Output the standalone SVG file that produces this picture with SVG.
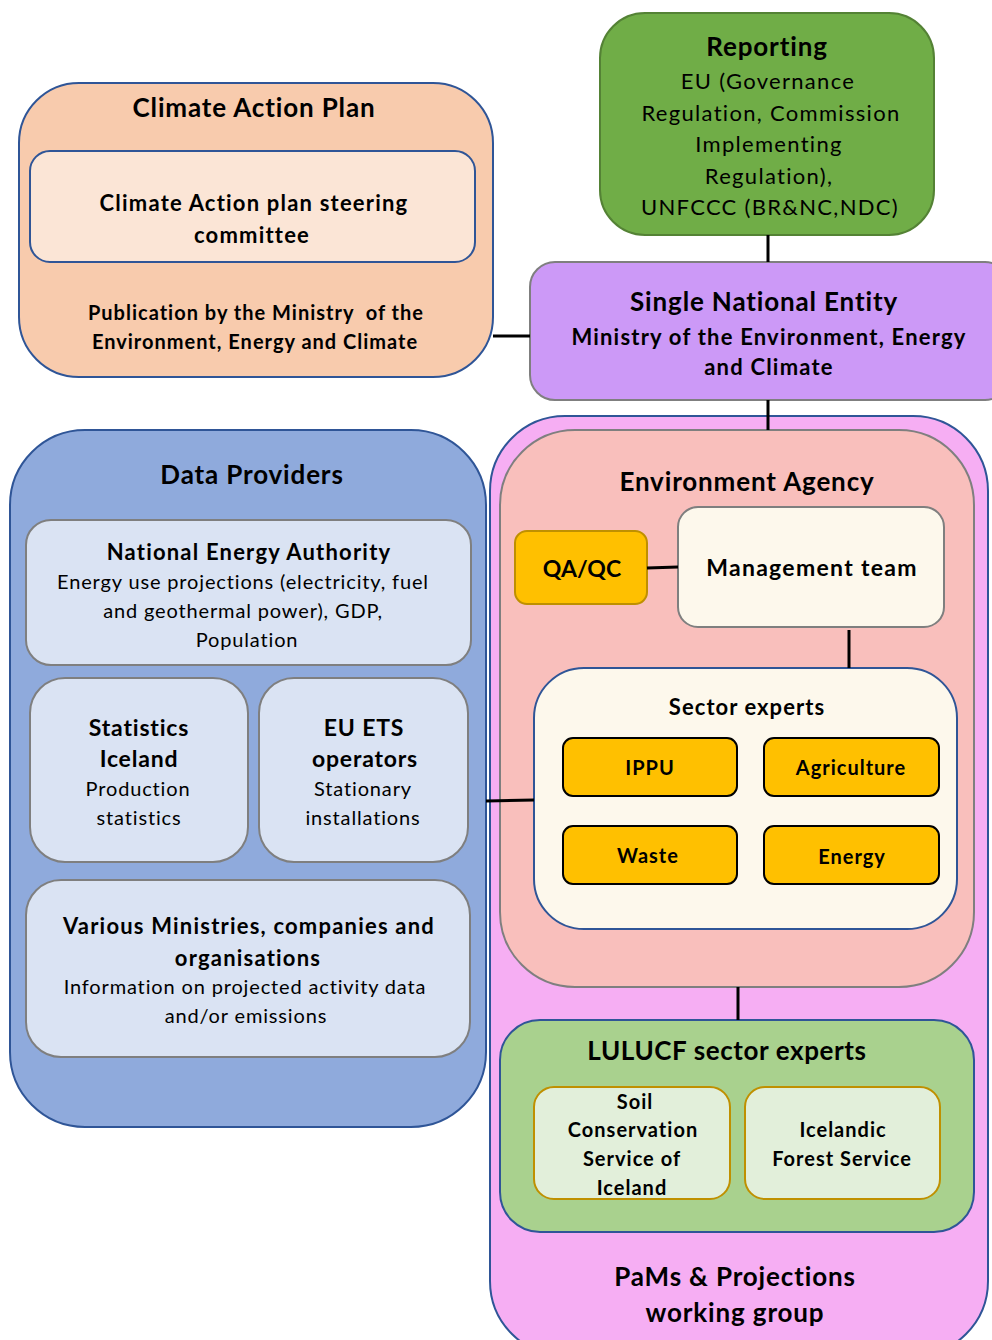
<svg xmlns="http://www.w3.org/2000/svg" width="992" height="1340" viewBox="0 0 992 1340">
<style>
text{font-family:Lato,"Open Sans","Liberation Sans",sans-serif;fill:#000;text-anchor:middle}
.b{font-weight:bold}
.t26{font-size:26px;font-weight:bold;letter-spacing:0.85px}
.t23{font-size:23px;letter-spacing:0.8px}
.t22{font-size:22px;letter-spacing:1.2px}
.r22{font-size:22px;letter-spacing:1.3px}
.t20{font-size:20px;letter-spacing:0.85px}
.t20.b{letter-spacing:1px}
.blue{stroke:#2F5597;stroke-width:2}
.grey{stroke:#7F7F7F;stroke-width:2}
.conn{stroke:#000;stroke-width:3;fill:none}
</style>
<rect width="992" height="1340" fill="#fff"/>

<g id="pams">
<rect x="490" y="416" width="498" height="940" rx="75" fill="#F6AEF3" class="blue"/>
<text class="t26" x="735" y="1286">PaMs &amp; Projections</text>
<text class="t26" x="735" y="1322">working group</text>
</g>

<g id="climate-action-plan">
<rect x="19" y="83" width="474" height="294" rx="60" fill="#F8CBAD" class="blue"/>
<text class="t26" x="254" y="117">Climate Action Plan</text>
<rect x="30" y="151" width="445" height="111" rx="20" fill="#FBE5D6" class="blue"/>
<text class="t22 b" x="254" y="211">Climate Action plan steering</text>
<text class="t22 b" x="252" y="243">committee</text>
<text class="t20 b" x="256" y="320">Publication by the Ministry&#160; of the</text>
<text class="t20 b" x="255" y="349">Environment, Energy and Climate</text>
</g>

<g id="reporting">
<rect x="600" y="13" width="334" height="222" rx="45" fill="#70AD47" stroke="#548235" stroke-width="2"/>
<text class="t26" x="767" y="56">Reporting</text>
<text class="r22" x="768" y="89">EU (Governance</text>
<text class="r22" x="771" y="121">Regulation, Commission</text>
<text class="r22" x="769" y="152">Implementing</text>
<text class="r22" x="769" y="184">Regulation),</text>
<text class="r22" x="770" y="215">UNFCCC (BR&amp;NC,NDC)</text>
</g>

<g id="single-national-entity">
<rect x="530" y="262" width="480" height="138" rx="25" fill="#CC99F7" class="grey"/>
<text class="t26" x="764" y="311">Single National Entity</text>
<text class="t22 b" x="769" y="345">Ministry of the Environment, Energy</text>
<text class="t22 b" x="769" y="375">and Climate</text>
</g>

<g id="data-providers">
<rect x="10" y="430" width="476" height="697" rx="75" fill="#8FAADC" class="blue"/>
<text class="t26" x="252" y="484">Data Providers</text>
</g>

<g id="national-energy-authority">
<rect x="26" y="520" width="445" height="145" rx="25" fill="#DAE3F3" class="grey"/>
<text class="t22 b" x="249" y="560">National Energy Authority</text>
<text class="t20" x="243" y="589">Energy use projections (electricity, fuel</text>
<text class="t20" x="243" y="618">and geothermal power), GDP,</text>
<text class="t20" x="247" y="647">Population</text>
</g>

<g id="statistics-iceland">
<rect x="30" y="678" width="218" height="184" rx="35" fill="#DAE3F3" class="grey"/>
<text class="t23 b" x="139" y="736">Statistics</text>
<text class="t23 b" x="139" y="767">Iceland</text>
<text class="t20" x="138" y="796">Production</text>
<text class="t20" x="139" y="825">statistics</text>
</g>

<g id="eu-ets">
<rect x="259" y="678" width="209" height="184" rx="35" fill="#DAE3F3" class="grey"/>
<text class="t23 b" x="364" y="736">EU ETS</text>
<text class="t23 b" x="365" y="767">operators</text>
<text class="t20" x="363" y="796">Stationary</text>
<text class="t20" x="363" y="825">installations</text>
</g>

<g id="various-ministries">
<rect x="26" y="880" width="444" height="177" rx="35" fill="#DAE3F3" class="grey"/>
<text class="t22 b" x="249" y="934">Various Ministries, companies and</text>
<text class="t22 b" x="248" y="966">organisations</text>
<text class="t20" x="245" y="994">Information on projected activity data</text>
<text class="t20" x="246" y="1023">and/or emissions</text>
</g>

<g id="environment-agency">
<rect x="500" y="430" width="474" height="557" rx="75" fill="#F9BFBC" class="grey"/>
<text class="t26" x="747" y="491">Environment Agency</text>
</g>

<g id="qaqc">
<rect x="515" y="531" width="132" height="73" rx="12" fill="#FFC000" stroke="#BF9000" stroke-width="2"/>
<text class="b" x="582" y="577" style="font-size:23px">QA/QC</text>
</g>

<g id="management-team">
<rect x="678" y="507" width="266" height="120" rx="20" fill="#FDF8EC" class="grey"/>
<text class="t22 b" x="812" y="576" style="font-size:23px;letter-spacing:1.3px">Management team</text>
</g>

<g id="sector-experts">
<rect x="534" y="668" width="423" height="261" rx="50" fill="#FDF8EC" class="blue"/>
<text class="t22 b" x="747" y="715" style="letter-spacing:1.05px">Sector experts</text>
</g>

<g id="ippu">
<rect x="563" y="738" width="174" height="58" rx="10" fill="#FFC000" stroke="#000" stroke-width="2"/>
<text class="t20 b" x="650" y="775">IPPU</text>
</g>
<g id="agriculture">
<rect x="764" y="738" width="175" height="58" rx="10" fill="#FFC000" stroke="#000" stroke-width="2"/>
<text class="t20 b" x="851" y="775">Agriculture</text>
</g>
<g id="waste">
<rect x="563" y="826" width="174" height="58" rx="10" fill="#FFC000" stroke="#000" stroke-width="2"/>
<text class="t20 b" x="648" y="863">Waste</text>
</g>
<g id="energy">
<rect x="764" y="826" width="175" height="58" rx="10" fill="#FFC000" stroke="#000" stroke-width="2"/>
<text class="t20 b" x="852" y="864">Energy</text>
</g>

<g id="lulucf">
<rect x="500" y="1020" width="474" height="212" rx="40" fill="#A9D18E" class="blue"/>
<text class="t26" x="727" y="1060" style="letter-spacing:0.6px">LULUCF sector experts</text>
</g>
<g id="soil-conservation">
<rect x="534" y="1087" width="196" height="112" rx="20" fill="#E2EFDA" stroke="#BF9000" stroke-width="2"/>
<text class="t20 b" x="635" y="1109">Soil</text>
<text class="t20 b" x="633" y="1137">Conservation</text>
<text class="t20 b" x="632" y="1166">Service of</text>
<text class="t20 b" x="632" y="1195">Iceland</text>
</g>
<g id="icelandic-forest-service">
<rect x="745" y="1087" width="195" height="112" rx="20" fill="#E2EFDA" stroke="#BF9000" stroke-width="2"/>
<text class="t20 b" x="843" y="1137">Icelandic</text>
<text class="t20 b" x="842" y="1166">Forest Service</text>
</g>

<g id="connectors">
<line class="conn" x1="768" y1="235" x2="768" y2="262"/>
<line class="conn" x1="493" y1="336" x2="530" y2="336"/>
<line class="conn" x1="768" y1="400" x2="768" y2="430"/>
<line class="conn" x1="647" y1="568" x2="678" y2="567"/>
<line class="conn" x1="849" y1="630" x2="849" y2="668"/>
<line class="conn" x1="486" y1="801" x2="534" y2="800"/>
<line class="conn" x1="738" y1="987" x2="738" y2="1020"/>
</g>
</svg>
